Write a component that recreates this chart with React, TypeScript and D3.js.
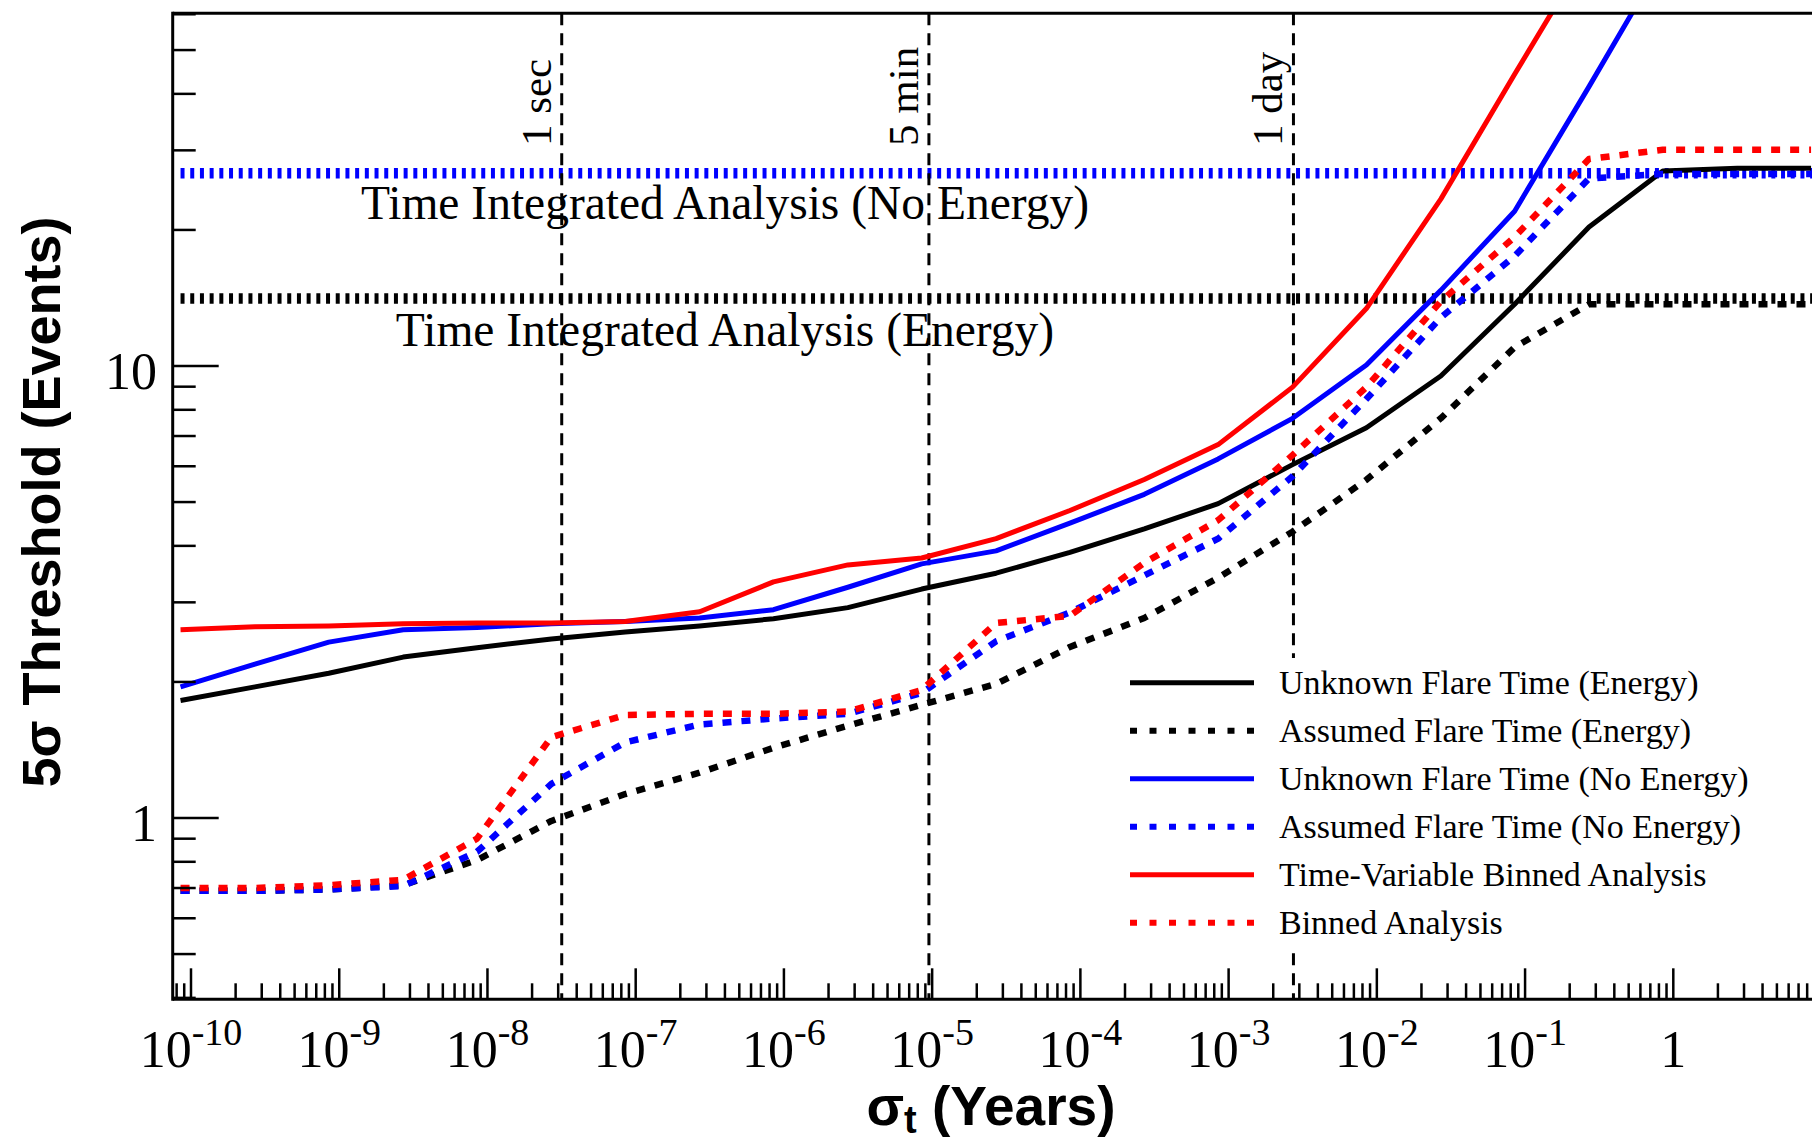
import React from 'react';
import * as d3 from 'd3';

// sigma_t grid (years), half-decade steps
const sigmaT = [8.5e-11, 2.7e-10, 8.5e-10, 2.7e-9, 8.5e-9, 2.7e-8, 8.5e-8, 2.7e-7, 8.5e-7, 2.7e-6, 8.5e-6,
  2.7e-5, 8.5e-5, 2.7e-4, 8.5e-4, 2.7e-3, 8.5e-3, 2.7e-2, 8.5e-2, 0.27, 0.85, 2.7, 8.5];

const unknownEnergy = [1.82, 1.95, 2.09, 2.27, 2.38, 2.49, 2.58, 2.66, 2.76, 2.92, 3.21, 3.48, 3.87, 4.36, 4.96,
  6.05, 7.3, 9.5, 13.7, 20.3, 27.0, 27.4, 27.4];
const assumedEnergy = [0.69, 0.69, 0.695, 0.71, 0.807, 0.985, 1.13, 1.26, 1.43, 1.6, 1.78, 1.98, 2.39, 2.77, 3.4,
  4.3, 5.6, 7.66, 11.0, 13.7, 13.7, 13.7, 13.7];
const unknownNoEnergy = [1.95, 2.19, 2.45, 2.61, 2.64, 2.69, 2.72, 2.77, 2.89, 3.24, 3.65, 3.9, 4.49, 5.2, 6.23,
  7.66, 10.05, 14.7, 22.0, 41.5, 79];
const assumedNoEnergy = [0.69, 0.69, 0.695, 0.707, 0.842, 1.19, 1.47, 1.61, 1.66, 1.7, 1.89, 2.46, 2.85, 3.44, 4.15,
  5.7, 8.45, 12.8, 17.5, 26.0, 26.6, 26.6, 26.6];
const timeVarBinned = [2.61, 2.65, 2.66, 2.69, 2.7, 2.7, 2.72, 2.86, 3.33, 3.63, 3.76, 4.15, 4.79, 5.61, 6.7,
  8.98, 13.4, 23.4, 44.2, 83];
const binned = [0.7, 0.7, 0.71, 0.73, 0.9, 1.51, 1.69, 1.7, 1.7, 1.72, 1.92, 2.7, 2.8, 3.67, 4.56,
  6.35, 8.98, 13.9, 19.3, 28.7, 30.1, 30.1, 30.1];

// time integrated thresholds
const tiLabels = ['Time Integrated Analysis (No Energy)', 'Time Integrated Analysis (Energy)'];
const tiValues = [26.7, 14.1];
const tiColors = ['#0000ff', '#000000'];

// reference times in years
const markerLabels = ['1 sec', '5 min', '1 day'];
const markerYears = [3.17e-8, 9.51e-6, 2.738e-3];

const xTickExps = [-10, -9, -8, -7, -6, -5, -4, -3, -2, -1, 0];
const yTickValues = [1, 10];
const yTickLabels = ['1', '10'];

const series = [
  { name: 'Unknown Flare Time (Energy)', values: unknownEnergy, color: '#000000', dashed: false },
  { name: 'Assumed Flare Time (Energy)', values: assumedEnergy, color: '#000000', dashed: true },
  { name: 'Unknown Flare Time (No Energy)', values: unknownNoEnergy, color: '#0000ff', dashed: false },
  { name: 'Assumed Flare Time (No Energy)', values: assumedNoEnergy, color: '#0000ff', dashed: true },
  { name: 'Time-Variable Binned Analysis', values: timeVarBinned, color: '#ff0000', dashed: false },
  { name: 'Binned Analysis', values: binned, color: '#ff0000', dashed: true },
];

const W = 1812;
const H = 1144;
const box = { left: 172.7, right: 1812, top: 13.3, bottom: 999.3 };
const serif = "'Liberation Serif', 'Times New Roman', serif";
const sans = "'Liberation Sans', Arial, sans-serif";

const x = d3.scaleLog().domain([1e-10, 1]).range([191, 1673.3]);
const y = d3.scaleLog().domain([1, 10]).range([818, 366]);

const App = () => {
  const line = d3.line<[number, number]>().x(d => x(d[0])).y(d => y(d[1]));

  const xMinor: number[] = [];
  for (let e = -11; e <= 0; e++) {
    for (let m = 2; m <= 9; m++) {
      const px = x(m * Math.pow(10, e));
      if (px > box.left && px < box.right) xMinor.push(px);
    }
  }
  const yMinor: number[] = [];
  [0.1, 1, 10].forEach(base => {
    for (let m = 2; m <= 9; m++) {
      const py = y(m * base);
      if (py > box.top && py < box.bottom) yMinor.push(py);
    }
  });

  const legendX0 = 1130;
  const legendX1 = 1254;
  const legendY0 = 682.7;
  const legendStep = 48;

  return (
    <svg width={W} height={H} style={{ position: 'absolute', left: 0, top: 0, background: '#fff' }}>
      <defs>
        <clipPath id="plot">
          <rect x={box.left} y={box.top} width={box.right - box.left} height={box.bottom - box.top} />
        </clipPath>
      </defs>
      <rect width={W} height={H} fill="#fff" />

      <g clipPath="url(#plot)">
        {tiValues.map((v, i) => (
          <line key={'ti' + i} x1={x(sigmaT[0])} x2={box.right} y1={y(v)} y2={y(v)}
            stroke={tiColors[i]} strokeWidth={10.5} strokeDasharray="4 5.7" />
        ))}
        {markerYears.map((t, i) => (
          <line key={'mk' + i} x1={x(t)} x2={x(t)} y1={box.top} y2={box.bottom}
            stroke="#000" strokeWidth={3} strokeDasharray="12 8" />
        ))}
        {series.map(s => (
          <path key={s.name}
            d={line(s.values.map((v, i) => [sigmaT[i], v] as [number, number])) || ''}
            fill="none" stroke={s.color}
            strokeWidth={s.dashed ? 6.5 : 5}
            strokeDasharray={s.dashed ? '9 10' : undefined}
            strokeLinejoin="round" />
        ))}
      </g>

      {tiLabels.map((t, i) => (
        <text key={'tl' + i} x={725} y={i === 0 ? 219 : 346} textAnchor="middle"
          fontFamily={serif} fontSize={47.5}>{t}</text>
      ))}
      {markerYears.map((t, i) => (
        <text key={'ml' + i} transform={`translate(${x(t) - 11},146) rotate(-90)`}
          fontFamily={serif} fontSize={43}>{markerLabels[i]}</text>
      ))}

      {/* legend */}
      <rect x={1115} y={658} width={W - 1115} height={292} fill="#fff" />
      {series.map((s, i) => {
        const ly = legendY0 + i * legendStep;
        return (
          <g key={'lg' + i}>
            <line x1={legendX0} x2={legendX1} y1={ly} y2={ly} stroke={s.color}
              strokeWidth={s.dashed ? 6 : 5} strokeDasharray={s.dashed ? '7 12.5' : undefined} />
            <text x={1279} y={ly + 11} fontFamily={serif} fontSize={34}>{s.name}</text>
          </g>
        );
      })}

      {/* axes frame */}
      <g stroke="#000" strokeWidth={3} fill="none">
        <line x1={box.left} x2={box.right} y1={box.top} y2={box.top} />
        <line x1={box.left} x2={box.right} y1={box.bottom} y2={box.bottom} />
        <line x1={box.left} x2={box.left} y1={box.top - 1.5} y2={box.bottom + 1.5} />
      </g>
      <g stroke="#000" strokeWidth={2.5}>
        {xTickExps.map(e => {
          const px = x(Math.pow(10, e));
          return <line key={'xM' + e} x1={px} x2={px} y1={box.bottom} y2={box.bottom - 31} />;
        })}
        {xMinor.map((px, i) => <line key={'xm' + i} x1={px} x2={px} y1={box.bottom} y2={box.bottom - 16} />)}
        {yTickValues.map(v => (
          <line key={'yM' + v} x1={box.left} x2={box.left + 46} y1={y(v)} y2={y(v)} />
        ))}
        {yMinor.map((py, i) => <line key={'ym' + i} x1={box.left} x2={box.left + 23} y1={py} y2={py} />)}
      </g>

      {xTickExps.map(e => (
        <text key={'xl' + e} x={x(Math.pow(10, e))} y={1067} textAnchor="middle" fontFamily={serif} fontSize={52}>
          {e === 0 ? '1' : <>10<tspan dy={-22} fontSize={38}>{String(e)}</tspan></>}
        </text>
      ))}
      {yTickValues.map((v, i) => (
        <text key={'yl' + v} x={157} y={y(v) + 23} textAnchor="end" fontFamily={serif} fontSize={52}>
          {yTickLabels[i]}
        </text>
      ))}

      <text x={991} y={1125} textAnchor="middle" fontFamily={sans} fontWeight="bold" fontSize={55}>
        σ<tspan dy={8} fontSize={38}>t</tspan><tspan dy={-8}> (Years)</tspan>
      </text>
      <text transform="translate(60,502) rotate(-90)" textAnchor="middle" fontFamily={sans}
        fontWeight="bold" fontSize={54}>5σ Threshold (Events)</text>
    </svg>
  );
};

export default App;
